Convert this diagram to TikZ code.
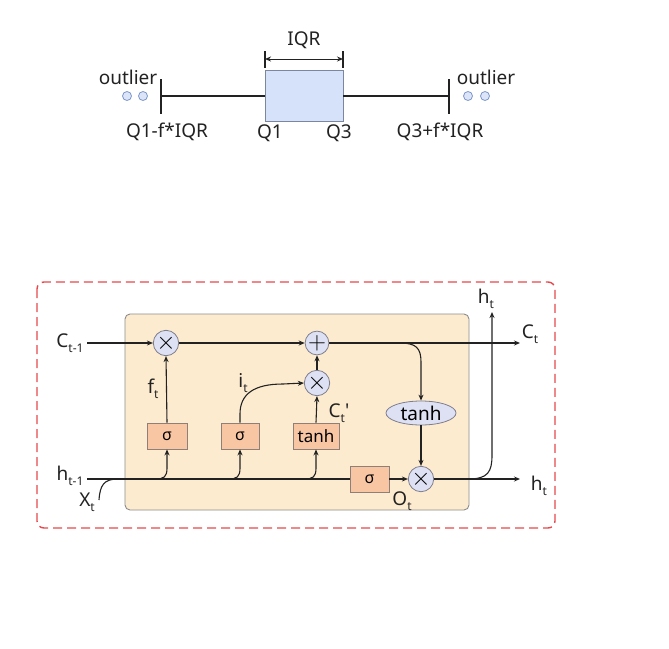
\documentclass[tikz,border=0pt]{standalone}
\usepackage{fontspec}
\setmainfont{Noto Sans}[Ligatures=TeXOff]
\usetikzlibrary{arrows.meta,shapes.geometric}
\definecolor{boxfill}{HTML}{D6E2FA}
\definecolor{boxdraw}{HTML}{7C879E}
\definecolor{outfill}{HTML}{DCE5F8}
\definecolor{outdraw}{HTML}{7D96CC}
\definecolor{cellfill}{HTML}{FDEBCF}
\definecolor{celldraw}{HTML}{8C8C8C}
\definecolor{gatefill}{HTML}{F9C6A4}
\definecolor{gatedraw}{HTML}{8E7F78}
\definecolor{circfill}{HTML}{DDE1F3}
\definecolor{circdraw}{HTML}{7E7E8E}
\definecolor{dashred}{HTML}{E5484D}
\definecolor{ink}{HTML}{222222}
\newcommand\mysub[1]{\raisebox{-0.5ex}{\fontsize{12}{13}\selectfont #1}}
\begin{document}
\begin{tikzpicture}[x=1pt,y=-1pt,
  lbl/.style={font=\fontsize{19}{21}\selectfont, inner sep=0pt, text=ink},
  gate/.style={draw=gatedraw, fill=gatefill, minimum height=26pt, inner sep=0pt, line width=0.8pt, font=\fontsize{16}{17}\selectfont},
  circ/.style={circle, draw=circdraw, fill=circfill, minimum size=22pt, inner sep=0pt, line width=0.8pt, font=\fontsize{25}{25}\selectfont},
  outl/.style={circle, draw=outdraw, fill=outfill, minimum size=9pt, inner sep=0pt, line width=0.8pt},
  arr/.style={-{Stealth[length=6pt,width=5pt]}, line width=1.1pt, draw=ink},
  ln/.style={line width=1.1pt, draw=ink},
  bp/.style={line width=1.8pt, draw=ink}]
\useasboundingbox (0,0) rectangle (669,648);

% ---------- box plot ----------
\node[draw=boxdraw, fill=boxfill, line width=0.9pt, minimum width=78pt, minimum height=51pt, inner sep=0pt] (box) at (304,96) {};
\coordinate (wl) at (161,96);
\coordinate (wr) at (449,96);
\coordinate (wlt) at (161,79);
\coordinate (wlb) at (161,114);
\coordinate (wrt) at (449,79);
\coordinate (wrb) at (449,114);
\draw[bp] (wl) -- (box.west);
\draw[bp] (box.east) -- (wr);
\draw[line width=1.3pt, ink] (wlt) -- (wlb);
\draw[line width=1.3pt, ink] (wrt) -- (wrb);
\coordinate (iqrl) at (265,59);
\coordinate (iqrr) at (343,59);
\coordinate (iqrlt) at (265,51);
\coordinate (iqrlb) at (265,68);
\coordinate (iqrrt) at (343,51);
\coordinate (iqrrb) at (343,68);
\draw[{Stealth[length=6pt,width=5pt]}-{Stealth[length=6pt,width=5pt]}, line width=1pt, ink] (iqrl) -- (iqrr);
\draw[line width=1.3pt, ink] (iqrlt) -- (iqrlb);
\draw[line width=1.3pt, ink] (iqrrt) -- (iqrrb);
\node[lbl] (tiqr) at (304,40) {IQR};
\node[outl] (o1) at (127,96) {};
\node[outl] (o2) at (143,96) {};
\node[outl] (o3) at (468,96) {};
\node[outl] (o4) at (485,96) {};
\node[lbl] (tol) at (128,77) {outlier};
\node[lbl] (tor) at (486,77) {outlier};
\node[lbl] (tq1f) at (167,132) {Q1-f*IQR};
\node[lbl] (tq1) at (270,133) {Q1};
\node[lbl] (tq3) at (339,133) {Q3};
\node[lbl] (tq3f) at (440,132) {Q3+f*IQR};

% ---------- LSTM ----------
\draw[dashred, dashed, dash pattern=on 9pt off 5pt, line width=1.4pt, rounded corners=7pt] (37,282) rectangle (555,528);
\draw[celldraw, fill=cellfill, line width=0.9pt, rounded corners=5pt] (125,314) rectangle (469,510);

\node[circ] (m1) at (166,343) {$\times$};
\node[circ] (add) at (317,343) {$+$};
\node[circ] (m2) at (317,383) {$\times$};
\node[ellipse, draw=circdraw, fill=circfill, line width=0.8pt, minimum width=70pt, minimum height=24pt, inner sep=0pt, font=\fontsize{19}{19}\selectfont] (th) at (421,413) {tanh};
\node[circ] (m3) at (421,479) {$\times$};

\node[gate, minimum width=40pt] (g1) at (167,436) {σ};
\node[gate, minimum width=38pt] (g2) at (240,436) {σ};
\node[gate, minimum width=46pt, font=\fontsize{17}{18}\selectfont] (g3) at (316,436) {tanh};
\node[gate, minimum width=39pt] (g4) at (369.5,479) {σ};

\node[lbl] (lc) at (70,343) {C\mysub{t-1}};
\node[lbl] (lh) at (70,476) {h\mysub{t-1}};
\node[lbl] (lx) at (87,502) {X\mysub{t}};
\node[lbl] (lft) at (153,389) {f\mysub{t}};
\node[lbl] (lit) at (243,383) {i\mysub{t}};
\node[lbl] (lct) at (339,413) {C\mysub{t}'};
\node[lbl] (lot) at (402,501) {O\mysub{t}};
\node[lbl] (lht) at (486,299) {h\mysub{t}};
\node[lbl] (lctr) at (530,334) {C\mysub{t}};
\node[lbl] (lhtr) at (539,486) {h\mysub{t}};

\coordinate (cs) at (87,343);
\coordinate (ce) at (520,343);
\coordinate (hs) at (87,479);
\coordinate (he) at (520,479);
\coordinate (xs) at (99,500);
\coordinate (xj) at (118,479);
\coordinate (b1) at (155,479);
\coordinate (b2) at (228,479);
\coordinate (b3) at (304,479);
\coordinate (bc) at (400,343);
\coordinate (bo) at (468,479);
\coordinate (ot) at (492,312);

% cell line
\draw[arr] (cs) -- (m1.west);
\draw[arr] (m1.east) -- (add.west);
\draw[arr] (add.east) -- (ce);
\draw[arr] (bc) .. controls (416,343) and (421,348) .. (421,362) -- (th.north);
\draw[arr] (th.south) -- (m3.north);

% hidden line
\draw[ln] (hs) -- (g4.west);
\draw[ln] (xs) .. controls (100,485) and (104,479) .. (xj);
\draw[arr] (g4.east) -- (m3.west);
\draw[arr] (m3.east) -- (he);
\draw[arr] (bo) .. controls (488,479) and (492,472) .. (492,455) -- (ot);

% gate inputs
\draw[arr] (b1) .. controls (164,479) and (167,477) .. (167,468) -- (g1.south);
\draw[arr] (b2) .. controls (237,479) and (240,477) .. (240,468) -- (g2.south);
\draw[arr] (b3) .. controls (313,479) and (316,477) .. (316,468) -- (g3.south);

% gate outputs
\draw[arr] (g1.north) -- (m1.south);
\draw[arr] (g2.north) -- (240,414) .. controls (240,394) and (254,384) .. (283,384) -- (m2.west);
\draw[arr] (g3.north) -- (m2.south);
\draw[arr] (m2.north) -- (add.south);
\end{tikzpicture}
\end{document}
